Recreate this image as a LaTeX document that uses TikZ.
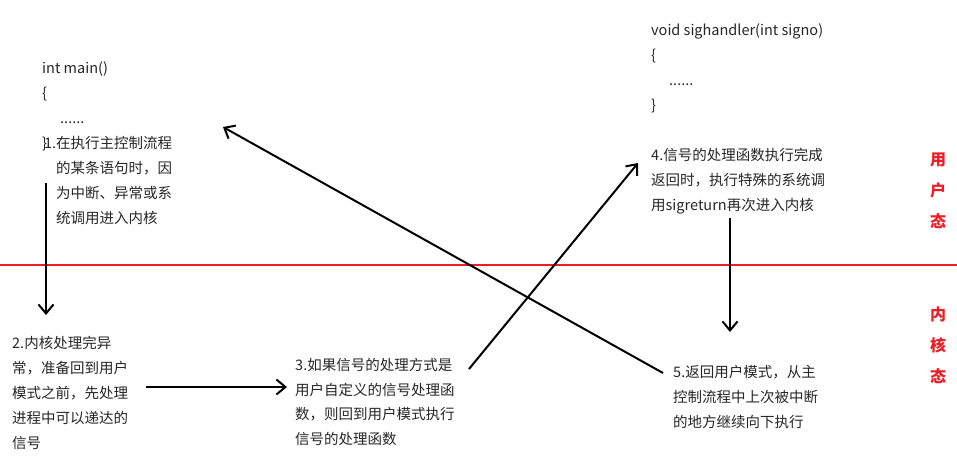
\documentclass[tikz,border=0pt]{standalone}
\usepackage{fontspec}
\setmainfont{Noto Sans CJK SC}
\usetikzlibrary{arrows.meta}
\definecolor{modered}{HTML}{EE1C25}
\tikzset{
  txt/.style={anchor=base west,align=left,inner sep=0pt,text=black!85,
    font=\fontsize{14.5}{25}\selectfont},
  arr/.style={line width=2pt,-{Straight Barb[length=9pt,width=15pt]}},
  mode/.style={align=center,inner sep=0pt,text=modered,
    font=\fontsize{16}{31}\selectfont\bfseries}
}
\begin{document}
\begin{tikzpicture}[x=1pt,y=-1pt]
    \useasboundingbox (0,0) rectangle (957,458);
    \draw[modered,line width=2pt] (0,265) -- (957,265);

    \node[mode] (user) at (938,191) {用\\户\\态};
    \node[mode] (kern) at (938,345) {内\\核\\态};

    \node[txt] (main) at (42,148) {int main()\\\{\\\hspace*{18pt}......\\\}};
    \node[txt] (step1) at (56,223) {\llap{1.}在执行主控制流程\\的某条语句时，因\\为中断、异常或系\\统调用进入内核};
    \node[txt] (step2) at (12,448) {2.内核处理完异\\常，准备回到用户\\模式之前，先处理\\进程中可以递达的\\信号};
    \node[txt,font=\fontsize{14.5}{24.4}\selectfont] (step3) at (295,444) {3.如果信号的处理方式是\\用户自定义的信号处理函\\数，则回到用户模式执行\\信号的处理函数};
    \node[txt] (handler) at (651,110) {void sighandler(int signo)\\\{\\\hspace*{18pt}......\\\}};
    \node[txt] (step4) at (651,210) {4.信号的处理函数执行完成\\返回时，执行特殊的系统调\\用sigreturn再次进入内核};
    \node[txt] (step5) at (673,427) {5.返回用户模式，从主\\控制流程中上次被中断\\的地方继续向下执行};

    \coordinate (a1s) at (46,183);
    \coordinate (a1e) at (46,315);
    \coordinate (a2s) at (146,387);
    \coordinate (a2e) at (287,387);
    \coordinate (a3s) at (469,369);
    \coordinate (a3e) at (638,163);
    \coordinate (a4s) at (730,218);
    \coordinate (a4e) at (730,332);
    \coordinate (a5s) at (663,373);
    \coordinate (a5e) at (223,127);

    \draw[arr] (a1s) -- (a1e);
    \draw[arr] (a2s) -- (a2e);
    \draw[arr] (a3s) -- (a3e);
    \draw[arr] (a4s) -- (a4e);
    \draw[arr] (a5s) -- (a5e);
\end{tikzpicture}
\end{document}
